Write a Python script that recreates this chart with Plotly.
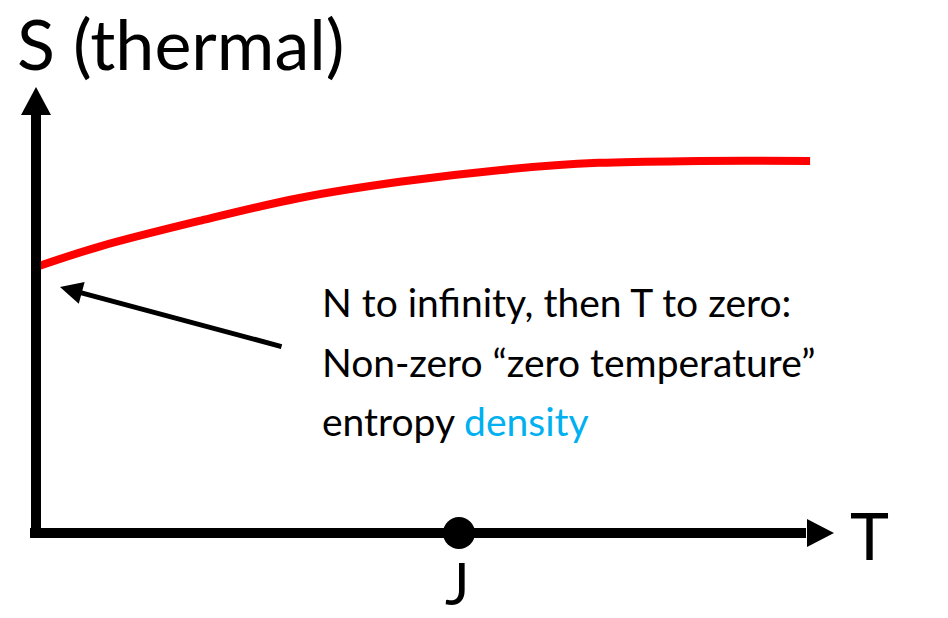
import plotly.graph_objects as go

# ---- data (T in units of J, S normalised to high-T plateau) ----
T_vals = [0.0, 0.15, 0.39, 0.62, 0.86, 1.10, 1.33, 1.57, 1.83]
S_vals = [0.715, 0.77, 0.84, 0.90, 0.944, 0.976, 0.995, 1.0, 1.0]
J_T = [1.0]
J_S = [0.0]

title_text = "S (thermal)"
x_label = "T"
j_label = "J"
note_lines = ["N to infinity, then T to zero:",
              "Non-zero \u201czero temperature\u201d",
              "entropy <span style='color:#00B0F0'>density</span>"]

W, H = 948, 618
X_RANGE = [-0.0851, 2.156]
Y_RANGE = [-0.2285, 1.4328]
px_per_T = W / (X_RANGE[1] - X_RANGE[0])
px_per_S = H / (Y_RANGE[1] - Y_RANGE[0])

def dT(px):
    return px / px_per_T

def dS(px):
    return px / px_per_S

FONT = "Lato"

fig = go.Figure()
fig.add_trace(go.Scatter(x=T_vals, y=S_vals, mode="lines",
                         line=dict(color="#FF0000", width=8, shape="spline"),
                         hoverinfo="skip", showlegend=False))

# axes drawn as thick lines with triangular heads
x_tip = 1.8865
y_tip = 1.199
head_len = 27
head_half = 14
shapes = [
    dict(type="line", xref="x", yref="y", x0=0, x1=0, y0=-dS(5), y1=y_tip - dS(head_len + 1),
         line=dict(color="black", width=10)),
    dict(type="line", xref="x", yref="y", x0=-dT(6), x1=x_tip - dT(head_len + 1), y0=0, y1=0,
         line=dict(color="black", width=10)),
    dict(type="path", xref="x", yref="y",
         path=f"M {-dT(15)},{y_tip - dS(28)} L {dT(15)},{y_tip - dS(28)} L 0,{y_tip} Z",
         fillcolor="black", line=dict(width=0)),
    dict(type="path", xref="x", yref="y",
         path=f"M {x_tip - dT(head_len)},{dS(head_half)} L {x_tip - dT(head_len)},{-dS(head_half)} L {x_tip},0 Z",
         fillcolor="black", line=dict(width=0)),
]

fig.add_trace(go.Scatter(x=J_T, y=J_S, mode="markers",
                         marker=dict(color="black", size=32),
                         hoverinfo="skip", showlegend=False))

annotations = [
    dict(text=title_text, xref="paper", yref="paper", x=16 / W, y=1.0,
         xanchor="left", yanchor="top", showarrow=False, borderpad=0,
         font=dict(family=FONT, size=70, color="black")),
    dict(text=x_label, xref="paper", yref="paper", x=869 / W, y=1 - 534 / H,
         xanchor="center", yanchor="middle", showarrow=False,
         font=dict(family=FONT, size=66, color="black")),
    dict(text=j_label, xref="paper", yref="paper", x=457 / W, y=0.0,
         xanchor="center", yanchor="bottom", showarrow=False, borderpad=0,
         font=dict(family=FONT, size=58, color="black")),
    # pointer arrow
    dict(x=0.0567, y=0.661, ax=0.584, ay=0.50, xref="x", yref="y",
         axref="x", ayref="y", text="", showarrow=True,
         arrowhead=2, arrowsize=0.9, arrowwidth=5, arrowcolor="black"),
]
line_y = [302, 362, 421]
for txt, yy in zip(note_lines, line_y):
    annotations.append(dict(text=txt, xref="paper", yref="paper", x=320 / W, y=1 - yy / H,
                            xanchor="left", yanchor="middle", showarrow=False,
                            font=dict(family=FONT, size=39, color="black")))

fig.update_layout(
    width=W, height=H, margin=dict(l=0, r=0, t=0, b=0),
    paper_bgcolor="white", plot_bgcolor="white",
    xaxis=dict(range=X_RANGE, visible=False, fixedrange=True),
    yaxis=dict(range=Y_RANGE, visible=False, fixedrange=True),
    shapes=shapes, annotations=annotations, showlegend=False,
)
fig.write_html("out.html", config={"displayModeBar": False},
               post_script="document.body.style.margin='0';document.body.style.overflow='hidden';")
